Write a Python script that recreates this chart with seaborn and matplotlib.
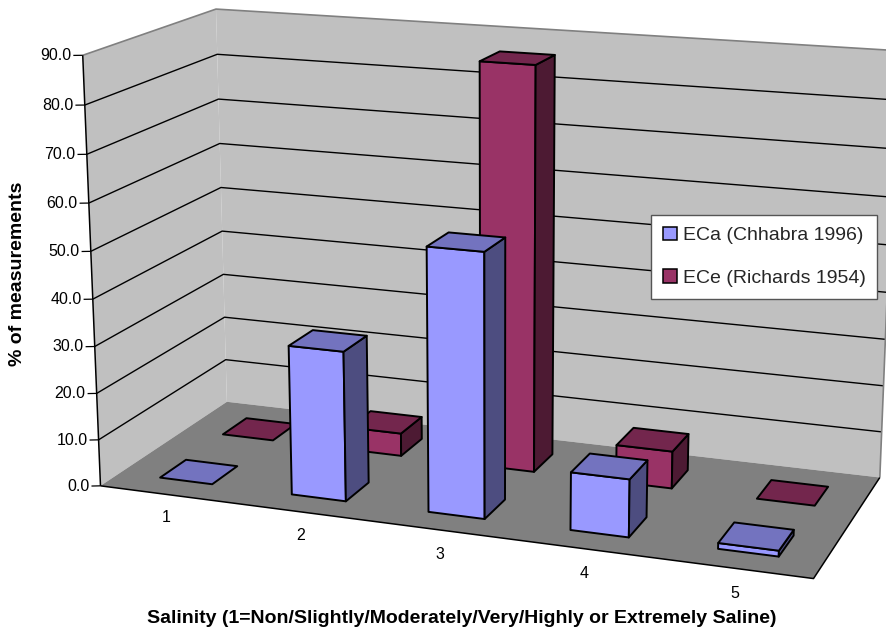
import numpy as np
import pandas as pd
import matplotlib
matplotlib.use("Agg")
import matplotlib.pyplot as plt
from matplotlib.patches import Patch
from mpl_toolkits.mplot3d.art3d import Poly3DCollection
import seaborn as sns

# ---- data ----
categories = ["1", "2", "3", "4", "5"]
series_names = ["ECa (Chhabra 1996)", "ECe (Richards 1954)"]
eca_values = [0.0, 31.7, 55.0, 12.0, 1.2]
ece_values = [0.0, 5.0, 86.5, 8.0, 0.0]
value_ticks = [0, 10, 20, 30, 40, 50, 60, 70, 80, 90]
x_title = "Salinity (1=Non/Slightly/Moderately/Very/Highly or Extremely Saline)"
y_title = "% of measurements"

sns.set_theme(style="white", font="Liberation Sans")
plt.rcParams["font.family"] = ["Liberation Sans", "DejaVu Sans"]

front_cols = sns.color_palette(["#9999FF", "#993366"])
top_cols = sns.color_palette(["#7373BF", "#73264D"])
side_cols = sns.color_palette(["#4D4D80", "#4D1A33"])

df = pd.DataFrame({"category": categories, series_names[0]: eca_values, series_names[1]: ece_values})

W, H = 886, 629
fig = plt.figure(figsize=(W / 100, H / 100), dpi=100, facecolor="white")
ax = fig.add_axes([0, 0, 1, 1], projection="3d")
ax.set_axis_off()
ax.patch.set_visible(False)
ax.computed_zorder = False

n_cat, n_ser, vmax = len(categories), len(series_names), value_ticks[-1]

# camera calibration: box corners (data) against where they sit in the picture
box_corners = [(0, 0, 0), (n_cat, 0, 0), (n_cat, n_ser, 0), (0, n_ser, 0),
               (0, 0, vmax), (0, n_ser, vmax), (n_cat, n_ser, vmax)]
box_pixels = [(100.7, 486), (813.3, 578.7), (880, 477.3), (226.7, 401.7),
              (82.7, 55), (216, 9.3), (897, 50.7)]
rows = []
for (X, Y, Z), (u, v) in zip(box_corners, box_pixels):
    rows.append([X, Y, Z, 1, 0, 0, 0, 0, -u * X, -u * Y, -u * Z, -u])
    rows.append([0, 0, 0, 0, X, Y, Z, 1, -v * X, -v * Y, -v * Z, -v])
P = np.linalg.svd(np.array(rows, float))[2][-1].reshape(3, 4)
centre = np.linalg.svd(P)[2][-1]


def custom_proj():
    x0, x1 = ax.viewLim.intervalx
    y0, y1 = ax.viewLim.intervaly
    A = np.array([[(x1 - x0) / W, 0, x0], [0, -(y1 - y0) / H, y1], [0, 0, 1]])
    Q = A @ P
    return np.array([Q[0], Q[1], centre * np.abs(Q[2]).max(), Q[2]])


ax.get_proj = custom_proj
ax.apply_aspect = lambda position=None: None


def face(verts, fc, ec, lw, z):
    ax.add_collection3d(Poly3DCollection([verts], facecolor=fc, edgecolor=ec, linewidth=lw, zorder=z))


def line(xs, ys, zs, color="black", lw=1.0, z=3):
    ax.plot(xs, ys, zs, color=color, lw=lw, zorder=z, solid_capstyle="butt")


wall, floor_col, edge = "#C0C0C0", "#808080", "#808080"
# walls
face([(0, 0, 0), (0, n_ser, 0), (0, n_ser, vmax), (0, 0, vmax)], wall, "none", 0, 1)
face([(0, n_ser, 0), (n_cat, n_ser, 0), (n_cat, n_ser, vmax), (0, n_ser, vmax)], wall, "none", 0, 1)
# gridlines
for v in value_ticks[1:-1]:
    line([0, 0, n_cat], [0, n_ser, n_ser], [v, v, v], lw=1.0, z=2)
# wall borders
line([0, 0, n_cat, n_cat], [0, n_ser, n_ser, n_ser], [vmax, vmax, vmax, 0], color=edge, lw=1.2, z=2.5)
line([0, 0], [n_ser, n_ser], [0, vmax], color=edge, lw=1.5, z=2.5)
# floor
face([(0, 0, 0), (n_cat, 0, 0), (n_cat, n_ser, 0), (0, n_ser, 0)], floor_col, "none", 0, 3)

# axis lines and ticks
line([0, n_cat, n_cat], [0, 0, n_ser], [0, 0, 0], lw=1.1, z=3.5)
line([0, 0], [0, 0], [0, vmax], lw=1.1, z=3.5)
for i in range(n_cat + 1):
    line([i, i], [0, 0], [0, -1.8], lw=0.9, z=3.5)
tick_dx, tick_dy = -0.0646, -0.0284
for v in value_ticks:
    line([0, 0.87 * tick_dx], [0, 0.87 * tick_dy], [v, v], lw=0.9, z=3.5)
    ax.text(1.05 * tick_dx, 1.05 * tick_dy, v, f"{v:.1f}", ha="right", va="center",
            fontsize=11.5, color="black", zorder=50)
for i, c in enumerate(categories):
    ax.text(i + 0.5, 0, -5.1, c, ha="center", va="center", fontsize=11.5, color="black", zorder=50)

# bars, back row first
GAP = 0.3
order = 10
for s in reversed(range(n_ser)):
    values = df[series_names[s]].to_numpy()
    for i in range(n_cat):
        x0, x1, y0, y1, h = i + GAP, i + 1 - GAP, s + GAP, s + 1 - GAP, values[i]
        lw = 1.4
        if h > 0:
            face([(x0, y0, 0), (x1, y0, 0), (x1, y0, h), (x0, y0, h)], front_cols[s], "black", lw, order)
            face([(x1, y0, 0), (x1, y1, 0), (x1, y1, h), (x1, y0, h)], side_cols[s], "black", lw, order + 0.1)
        face([(x0, y0, h), (x1, y0, h), (x1, y1, h), (x0, y1, h)], top_cols[s], "black", lw, order + 0.2)
        order += 1

# axis titles
fig.text(461.5 / W, 1 - 618.5 / H, x_title, ha="center", va="center", fontsize=14, fontweight="bold", color="black")
fig.text(18 / W, 1 - 274 / H, y_title, ha="center", va="center", rotation=90, fontsize=14,
         fontweight="bold", color="black")

# legend
handles = [Patch(facecolor=front_cols[k], edgecolor="black", linewidth=1.1) for k in range(n_ser)]
leg = ax.legend(handles, series_names, loc="center", bbox_to_anchor=(764.3 / W, 1 - 256.8 / H),
                bbox_transform=fig.transFigure, fontsize=14, frameon=True, fancybox=False,
                edgecolor="#555555", facecolor="white", framealpha=1, handlelength=0.7, handleheight=0.7,
                handletextpad=0.3, labelspacing=1.3, borderpad=0.6)
leg.set_zorder(100)
leg.get_frame().set_linewidth(1.0)

fig.savefig("out.png", dpi=100)
